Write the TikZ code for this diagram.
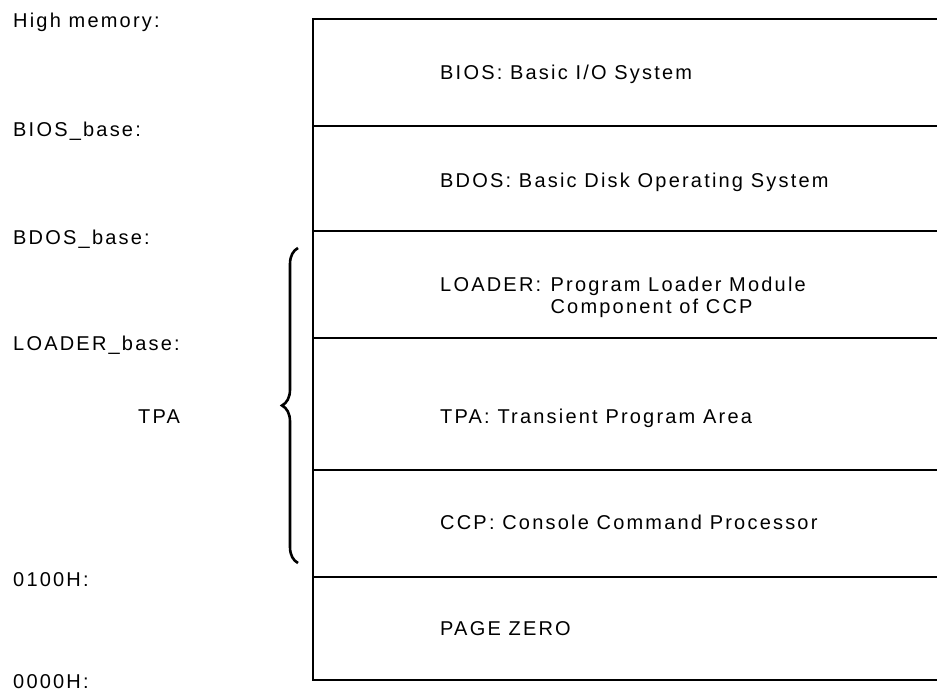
\documentclass[tikz,border=0pt]{standalone}
\usepackage{fontspec}
\setmainfont{Liberation Sans}[LetterSpace=11]
\usetikzlibrary{decorations.pathreplacing}

\tikzset{
  memtext/.style={inner sep=0pt,anchor=base west,font=\fontsize{20}{24}\selectfont},
  memline/.style={line width=2.6pt}
}

\begin{document}
\begin{tikzpicture}[x=1pt,y=-1pt]
\useasboundingbox (0,0) rectangle (937,692);
\draw[memline] (313,19) -- (313,680);
\foreach \y in {19,126,231,338,470,577,680}
  \draw[memline] (312,\y) -- (937,\y);

\node[memtext] (high) at (13,28) {High memory:};
\node[memtext] (biosb) at (13,137) {BIOS\_base:};
\node[memtext] (bdosb) at (13,245) {BDOS\_base:};
\node[memtext] (loadb) at (13,351) {LOADER\_base:};
\node[memtext] (tpal) at (138,424) {TPA};
\node[memtext] (p100) at (13,586) {0100H:};
\node[memtext] (p000) at (13,688) {0000H:};

\node[memtext] (bios) at (440,80) {BIOS: Basic I/O System};
\node[memtext] (bdos) at (440,188) {BDOS: Basic Disk Operating System};
\node[memtext] (ldr) at (440,292) {LOADER:};
\node[memtext] (ldra) at ([xshift=9pt]ldr.base east) {Program Loader Module};
\node[memtext] (ldrb) at ([yshift=-22pt]ldra.base west) {Component of CCP};
\node[memtext] (tpa) at (440,424) {TPA: Transient Program Area};
\node[memtext] (ccp) at (440,529) {CCP: Console Command Processor};
\node[memtext] (zero) at (440,635) {PAGE ZERO};

\coordinate (brlo) at (298,563);
\coordinate (brhi) at (298,248);
\draw[decorate,decoration={brace,amplitude=16pt},line width=2.6pt] (brlo) -- (brhi);
\end{tikzpicture}
\end{document}
